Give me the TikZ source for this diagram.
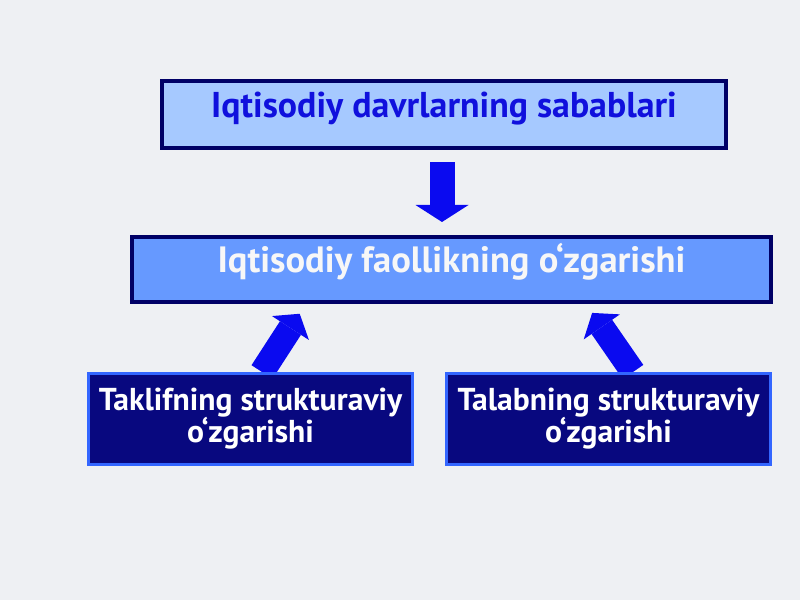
\documentclass[tikz,border=0pt]{standalone}
\usepackage{fontspec}
\setmainfont{PT Sans}
\usetikzlibrary{arrows.meta,calc,backgrounds}

\definecolor{pagebg}{HTML}{EEF0F3}
\definecolor{boxnavy}{HTML}{000066}
\definecolor{paleblue}{HTML}{A6C9FF}
\definecolor{midblue}{HTML}{6699FF}
\definecolor{deepnavy}{HTML}{08087F}
\definecolor{edgeblue}{HTML}{3366FF}
\definecolor{textblue}{HTML}{1010DD}
\definecolor{arrowblue}{HTML}{0A0AF0}

\begin{document}
\begin{tikzpicture}[x=0.025cm, y=-0.025cm,
	topbox/.style={draw=boxnavy, line width=0.1cm, fill=paleblue, inner sep=0pt,
		minimum width=14.1cm, text height=0.9cm, text depth=0.775cm,
		text=textblue, font=\fontsize{25.5}{30}\selectfont\bfseries},
	midbox/.style={draw=boxnavy, line width=0.1cm, fill=midblue, inner sep=0pt,
		minimum width=15.975cm, text height=0.875cm, text depth=0.75cm,
		text=white!94!gray, font=\fontsize{26}{30}\selectfont\bfseries},
	causebox/.style={draw=edgeblue, line width=0.075cm, fill=deepnavy, inner sep=0pt,
		minimum width=8.1cm, minimum height=2.275cm, align=center,
		text=white, font=\fontsize{22.5}{22.8}\selectfont\bfseries},
	fatarrow/.style={draw=arrowblue, line width=0.625cm,
		-{Triangle[width=1.325cm,length=0.425cm,line width=0pt]}},
	slantarrow/.style={fatarrow,
		-{Triangle[width=1.1cm,length=0.425cm,line width=0pt]}}]

	\useasboundingbox (0,0) rectangle (800,600);

	\node[topbox] (top) at (444,114.5) {Iqtisodiy davrlarning sabablari};
	\node[midbox] (mid) at (451.5,269.5) {Iqtisodiy faollikning o‘zgarishi};
	\node[causebox] (offer) at (250.5,419) {Taklifning strukturaviy\\o‘zgarishi};
	\node[causebox] (demand) at (608.5,419) {Talabning strukturaviy\\o‘zgarishi};

	\begin{scope}[on background layer]
		\fill[pagebg] (0,0) rectangle (800,600);
		\draw[fatarrow, shorten <=0.3cm, shorten >=0.325cm]
			($(top.south)+(-2,0)$) -- ($(top.south |- mid.north)+(-2,0)$);
		\draw[slantarrow, shorten >=0.29cm]
			($(offer.north)+(11.5,0)$) -- ($(mid.south)+(-145.5,0)$);
		\draw[slantarrow, shorten >=0.27cm]
			($(demand.north)+(24.5,0)$) -- ($(mid.south)+(134.5,0)$);
	\end{scope}
\end{tikzpicture}
\end{document}
